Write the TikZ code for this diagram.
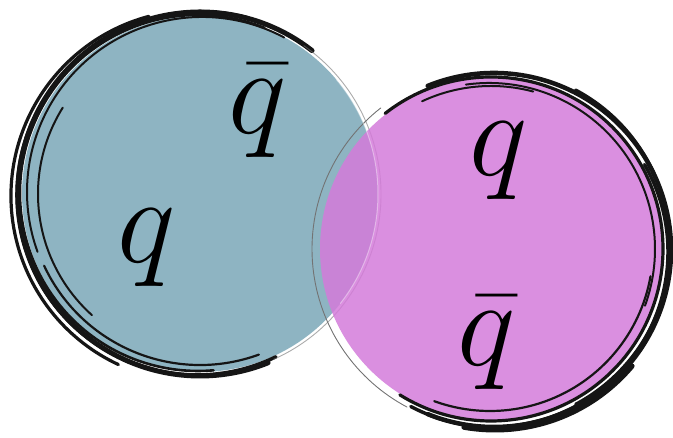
\documentclass[tikz,border=0pt]{standalone}
\usetikzlibrary{calc}
\definecolor{tealfill}{HTML}{8EB4C2}
\definecolor{pinkfill}{HTML}{D47BDA}
\definecolor{rim}{HTML}{151515}
\tikzset{
  blob/.style={circle, draw=none, inner sep=0pt},
  brush/.style={draw=rim, line cap=round, line join=round},
  hair/.style={draw=black!55, line width=0.9pt, line cap=round},
  glint/.style={draw=white, line width=1pt, opacity=0.4},
  quark/.style={font=\Huge, scale=4.98, anchor=base, inner sep=0pt}
}

\begin{document}
\begin{tikzpicture}[x=1pt,y=1pt]
\useasboundingbox (0,0) rectangle (673,438);

% left bubble
\node[blob, fill=tealfill, minimum size=356pt] (left) at (200,244) {};
\foreach \dx/\dy/\r/\a/\b/\w in {0/0/182/52/292/5, -2/1/178/68/275/2.6,
    -3/-2/186/105/245/3.2, 2/2/175/62/200/2, -3/-1/180/150/296/3.5,
    1/0/163/148/228/2, 0/1/172/205/290/2.2, 1/-1/184/75/160/2}
  \draw[brush, line width=\w pt] ($(left.center)+(\dx,\dy)+(\a:\r)$) arc (\a:\b:\r);
\draw[hair, opacity=0.6] ($(left.center)+(55:181)$) arc (55:-66:181);

% right bubble
\node[blob, fill=pinkfill, opacity=0.85, minimum size=342pt] (right) at (491,189) {};
\foreach \dx/\dy/\r/\a/\b/\w in {0/0/172/128/-122/3.2, 3/-1/177/112/-112/4.5,
    1/2/178/62/-62/3, -2/0/166/98/-20/2, 2/-3/175/30/-118/3.5,
    0/0/163/115/75/2, -1/1/163/-10/-110/2.2, 4/-2/179/-40/-100/5}
  \draw[brush, line width=\w pt] ($(right.center)+(\dx,\dy)+(\a:\r)$) arc (\a:\b:\r);
\draw[hair] ($(right.center)+(128:179)$) arc (128:242:179);
\draw[glint] ($(left.center)+(-38:178)$) arc (-38:40:178);

% labels
\node[quark] (qbarL) at (258,304) {$\bar q$};
\node[quark] (qL) at (147,175) {$q$};
\node[quark] (qR) at (499,262) {$q$};
\node[quark] (qbarR) at (487,72) {$\bar q$};
\end{tikzpicture}
\end{document}
